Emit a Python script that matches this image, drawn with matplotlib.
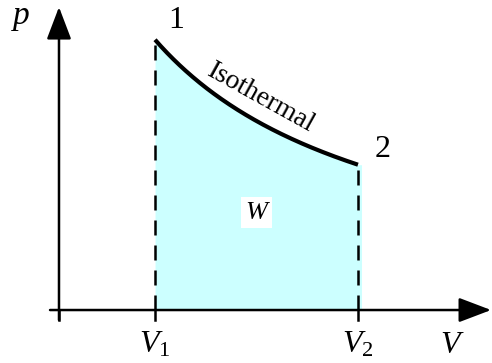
import numpy as np
import matplotlib
matplotlib.use('Agg')
import matplotlib.pyplot as plt

plt.rcParams['font.family'] = ['Liberation Serif', 'DejaVu Serif']
plt.rcParams['mathtext.fontset'] = 'custom'
plt.rcParams['mathtext.rm'] = 'Liberation Serif'
plt.rcParams['mathtext.it'] = 'Liberation Serif:italic'

# state points of the isothermal expansion
V1, V2 = 1.0, 1.86
p1 = 1.0
V_axis = 0.593          # where the p axis sits on the V scale
point_labels = ['1', '2']
curve_label = 'Isothermal'
work_label = 'W'

k = p1 * V1             # pV = const
V = np.linspace(V1, V2, 200)
p = k / V
p2 = k / V2

fig = plt.figure(figsize=(4.92, 3.63), dpi=100)
ax = fig.add_axes([0, 0, 1, 1])
ax.axis('off')
ax.set_xlim(0.343, 2.428)
ax.set_ylim(-0.196, 1.147)

# area under curve = work
ax.fill_between(np.append(V, V2 + 0.015), 0, np.append(p, p2), color='#ccffff', lw=0, zorder=1)

# the isotherm itself
ax.plot(V, p, color='black', lw=3.0, solid_capstyle='butt', zorder=4)

# dashed drop lines
for Vx, px in [(V1, p1), (V2, p2)]:
    ax.plot([Vx, Vx], [0, px], color='black', lw=1.8, dashes=(6, 4), zorder=3)

# axes with arrow heads
arrow = dict(arrowstyle='-|>,head_length=1.0,head_width=0.38', mutation_scale=20,
             lw=1.8, color='black', shrinkA=0, shrinkB=0)
ax.annotate('', xy=(V_axis, 1.121), xytext=(V_axis, -0.037), arrowprops=arrow, zorder=5)
ax.annotate('', xy=(2.424, 0), xytext=(0.555, 0), arrowprops=arrow, zorder=5)

# tick marks below the V axis
for Vx in [V_axis, V1, V2]:
    ax.plot([Vx, Vx], [0, -0.037], color='black', lw=1.8, zorder=5)

# labels
ax.annotate(point_labels[0], xy=(V1, p1), xytext=(21, 19), textcoords='offset pixels',
            ha='center', va='center', fontsize=23)
ax.annotate(point_labels[1], xy=(V2, p2), xytext=(25, 15), textcoords='offset pixels',
            ha='center', va='center', fontsize=23)
Vm = 1.436
ax.annotate(curve_label, xy=(Vm, k / Vm), xytext=(3, 24), textcoords='offset pixels',
            ha='center', va='center', fontsize=20, rotation=-29, rotation_mode='anchor')
ax.text((V1 + V2) / 2, 0.36, work_label, ha='center', va='center', fontsize=19,
        style='italic', bbox=dict(facecolor='white', edgecolor='none', pad=3))

ax.annotate('$V_1$', xy=(V1, 0), xytext=(0, -35), textcoords='offset pixels',
            ha='center', va='center', fontsize=23)
ax.annotate('$V_2$', xy=(V2, 0), xytext=(0, -35), textcoords='offset pixels',
            ha='center', va='center', fontsize=23)
ax.annotate('$V$', xy=(2.428, 0), xytext=(-40, -35), textcoords='offset pixels',
            ha='center', va='center', fontsize=23)
ax.annotate('$p$', xy=(V_axis, 1.121), xytext=(-38, -11), textcoords='offset pixels',
            ha='center', va='center', fontsize=24)

fig.savefig('out.png', dpi=100)
